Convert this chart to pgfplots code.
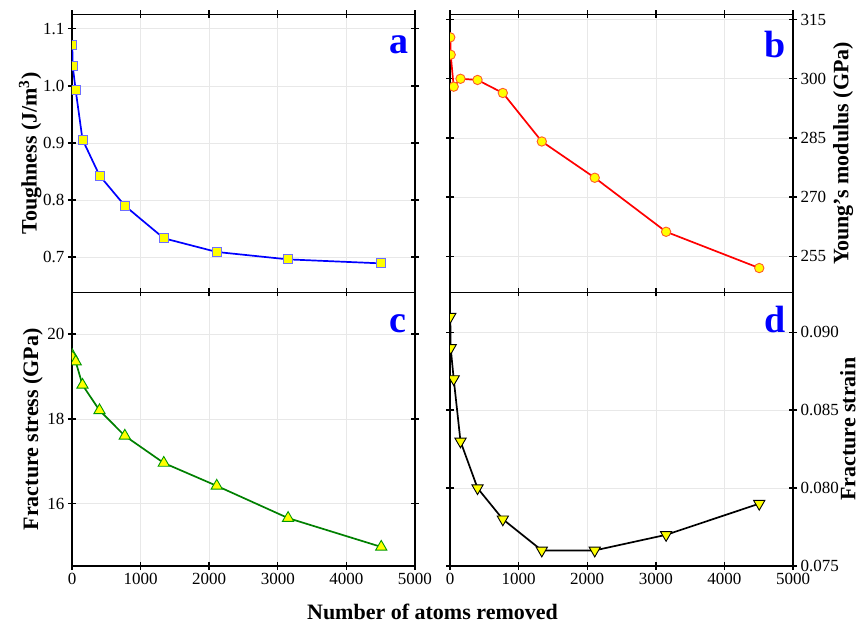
\documentclass[border=0pt]{standalone}
\usepackage{fontspec}
\setmainfont{Liberation Serif}
\usepackage{pgfplots}
\pgfplotsset{compat=1.18}

\definecolor{mkyellow}{RGB}{255,255,0}
\definecolor{sqedge}{RGB}{110,110,255}
\definecolor{circedge}{RGB}{255,90,40}
\definecolor{darkgreen}{RGB}{0,128,0}
\definecolor{gridgray}{RGB}{232,232,232}
\definecolor{labelblue}{RGB}{0,0,255}

\pgfplotsset{
  panel/.style={
    scale only axis,
    width=343pt,
    xmin=0, xmax=5000,
    xtick={0,1000,2000,3000,4000,5000},
    scaled ticks=false,
    axis line style={line width=1.6pt},
    every tick/.style={black, line width=1.4pt},
    major tick length=8pt,
    tick align=center,
    grid=major,
    major grid style={gridgray, line width=0.6pt},
    tick label style={font=\fontsize{17}{19}\selectfont},
    label style={font=\bfseries\fontsize{22}{24}\selectfont},
    /pgf/number format/assume math mode=true,
    /pgf/number format/1000 sep={},
    clip marker paths=true,
  },
  toprow/.style={height=278pt, xticklabels={}},
  bottomrow/.style={height=273.5pt},
}
\tikzset{
  letter/.style={anchor=base east, text=labelblue,
    font=\bfseries\fontsize{38}{40}\selectfont},
}

\begin{document}
\begin{tikzpicture}[x=1pt,y=1pt]
\useasboundingbox (0,0) rectangle (862,624);

% (a) toughness
\begin{axis}[panel, toprow, at={(72pt,331.5pt)}, anchor=south west,
  ymin=0.638, ymax=1.125,
  ytick={0.7,0.8,0.9,1.0,1.1},
  yticklabel style={/pgf/number format/.cd, fixed, precision=1, zerofill},
  ylabel={Toughness (J/m\textsuperscript{3})},
  ylabel style={at={(axis description cs:-0.122,0.5)}, anchor=center}]
\addplot[blue, line width=1.7pt, mark=square*, mark size=4.5pt,
  mark options={fill=mkyellow, draw=sqedge, line width=0.9pt}]
  coordinates {(4,1.071) (10,1.035) (54,0.992) (153,0.906) (401,0.843)
    (770,0.790) (1338,0.733) (2110,0.709) (3150,0.696) (4508,0.689)};
\node[letter] at (rel axis cs:0.991,0.86) {a};
\end{axis}

% (b) Young's modulus
\begin{axis}[panel, toprow, at={(450pt,331.5pt)}, anchor=south west,
  ymin=245.8, ymax=316.3,
  ytick={255,270,285,300,315},
  yticklabel pos=right,
  ylabel={Young’s modulus (GPa)},
  ylabel style={at={(axis description cs:1.146,0.5)}, anchor=center}]
\addplot[red, line width=1.7pt, mark=*, mark size=4.7pt,
  mark options={fill=mkyellow, draw=circedge, line width=0.9pt}]
  coordinates {(4,310.5) (10,306.1) (54,298.0) (153,300.0) (401,299.7)
    (770,296.4) (1338,284.1) (2110,274.9) (3150,261.2) (4508,252.0)};
\node[letter] at (rel axis cs:0.988,0.845) {b};
\end{axis}

% (c) fracture stress
\begin{axis}[panel, bottomrow, at={(72pt,58pt)}, anchor=south west,
  ymin=14.53, ymax=20.98,
  ytick={16,18,20},
  ylabel={Fracture stress (GPa)},
  ylabel style={at={(axis description cs:-0.114,0.5)}, anchor=center},
  xlabel={Number of atoms removed},
  xlabel style={at={(axis description cs:1.051,-0.197)}, anchor=base}]
\addplot[darkgreen, line width=1.7pt, mark=triangle*, mark size=6.5pt,
  mark options={fill=mkyellow, draw=darkgreen!80!green, line width=0.9pt}]
  coordinates {(4,19.50) (10,19.45) (54,19.35) (153,18.80) (401,18.20)
    (770,17.60) (1338,16.96) (2110,16.42) (3150,15.66) (4508,14.98)};
\node[letter] at (rel axis cs:0.985,0.854) {c};
\end{axis}

% (d) fracture strain
\begin{axis}[panel, bottomrow, at={(450pt,58pt)}, anchor=south west,
  ymin=0.075, ymax=0.09255,
  ytick={0.075,0.080,0.085,0.090},
  yticklabel pos=right,
  yticklabel style={/pgf/number format/.cd, fixed, precision=3, zerofill},
  ylabel={Fracture strain},
  ylabel style={at={(axis description cs:1.160,0.5)}, anchor=center}]
\addplot[black, line width=1.7pt, mark=triangle*, mark size=6.5pt,
  mark options={fill=mkyellow, draw=black, line width=0.9pt, rotate=180}]
  coordinates {(4,0.091) (10,0.089) (54,0.087) (153,0.083) (401,0.080)
    (770,0.078) (1338,0.076) (2110,0.076) (3150,0.077) (4508,0.079)};
\node[letter] at (rel axis cs:0.99,0.854) {d};
\end{axis}
\end{tikzpicture}
\end{document}
